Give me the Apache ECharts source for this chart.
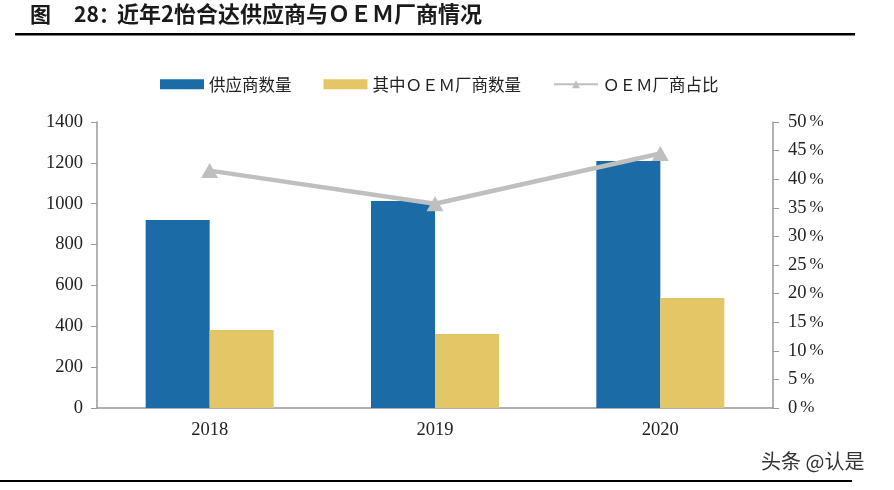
<!DOCTYPE html>
<html><head><meta charset="utf-8">
<script src="https://cdn.jsdelivr.net/npm/echarts@6/dist/echarts.min.js"></script>
<style>html,body{margin:0;padding:0;background:#fff}#c{width:894px;height:490px}</style>
</head><body><div id="c"></div>
<script>
const categories = ['2018', '2019', '2020'];
const suppliers = [920, 1013, 1209];
const oemSuppliers = [382, 362, 538];
const oemShare = [41.5, 35.7, 44.5];
const leftTicks = [0, 200, 400, 600, 800, 1000, 1200, 1400];
const rightTicks = [0, 5, 10, 15, 20, 25, 30, 35, 40, 45, 50];

const serif = '"Liberation Serif","DejaVu Serif","Noto Sans CJK SC",serif';
const cjk = '"Noto Sans CJK SC","Liberation Serif",serif';
const titleFont = '"Noto Sans CJK SC",sans-serif';
const chart = echarts.init(document.getElementById('c'));
chart.setOption({
  backgroundColor: '#fff',
  animation: false,
  graphic: [
    { type: 'text', left: 30, top: 4, style: { text: '图', fontSize: 21, fontWeight: 'bold', fontFamily: titleFont, fill: '#1a1a1a' } },
    { type: 'text', left: 74, top: 4, style: { text: '28：', fontSize: 21, fontWeight: 'bold', fontFamily: titleFont, fill: '#1a1a1a' } },
    { type: 'text', left: 117, top: 3, style: { text: '近年2怡合达供应商与ＯＥＭ厂商情况', fontSize: 22, fontWeight: 'bold', fontFamily: titleFont, fill: '#1a1a1a' } },
    { type: 'rect', shape: { x: 15, y: 33, width: 840, height: 2.5 }, style: { fill: '#000' } },
    { type: 'rect', shape: { x: 0, y: 480, width: 852, height: 2 }, style: { fill: '#000' } },
    { type: 'text', left: 761, top: 451, style: { text: '头条 @认是', fontSize: 20, fontFamily: titleFont, fill: '#333' } }
  ],
  legend: {
    left: 155, top: 71,
    itemWidth: 44, itemHeight: 10, itemGap: 32,
    textStyle: { fontFamily: cjk, fontSize: 16.5, color: '#222' },
    data: [
      { name: '供应商数量', icon: 'rect' },
      { name: '其中ＯＥＭ厂商数量', icon: 'rect' },
      { name: 'ＯＥＭ厂商占比' }
    ]
  },
  grid: { left: 97, right: 121, top: 122, bottom: 82 },
  xAxis: {
    type: 'category', data: categories,
    axisLine: { lineStyle: { color: '#999', width: 1.5 } },
    axisTick: { show: false },
    axisLabel: { margin: 13, fontFamily: serif, fontSize: 18.5, color: '#222' }
  },
  yAxis: [
    {
      type: 'value', min: 0, max: 1400, interval: 200,
      axisLine: { show: true, lineStyle: { color: '#999', width: 1.5 } },
      axisTick: { show: true, length: 6, lineStyle: { color: '#999' } },
      splitLine: { show: false },
      axisLabel: { margin: 14, fontFamily: serif, fontSize: 18.5, color: '#222',
        formatter: v => leftTicks.includes(v) ? String(v) : '' }
    },
    {
      type: 'value', min: 0, max: 50, interval: 5, position: 'right',
      axisLine: { show: true, lineStyle: { color: '#999', width: 1.5 } },
      axisTick: { show: true, length: 6, lineStyle: { color: '#999' } },
      splitLine: { show: false },
      axisLabel: { margin: 15, color: '#222',
        formatter: v => rightTicks.includes(v) ? '{n|' + v + '}{p|%}' : '',
        rich: {
          n: { fontFamily: serif, fontSize: 18.5, color: '#222', lineHeight: 20, verticalAlign: 'middle' },
          p: { fontFamily: serif, fontSize: 17, color: '#222', lineHeight: 20, verticalAlign: 'middle', padding: [0, 0, 0, 3] }
        } }
    }
  ],
  series: [
    { name: '供应商数量', type: 'bar', data: suppliers, barWidth: 64, barGap: '0%',
      itemStyle: { color: '#1A6BA6' } },
    { name: '其中ＯＥＭ厂商数量', type: 'bar', data: oemSuppliers, barWidth: 64, barGap: '0%',
      itemStyle: { color: '#E3C766' } },
    { name: 'ＯＥＭ厂商占比', type: 'line', yAxisIndex: 1, data: oemShare,
      symbol: 'triangle', symbolSize: [17, 15], z: 5,
      lineStyle: { color: '#BFBFBF', width: 4.5 },
      itemStyle: { color: '#BFBFBF' } }
  ]
});
</script></body></html>
